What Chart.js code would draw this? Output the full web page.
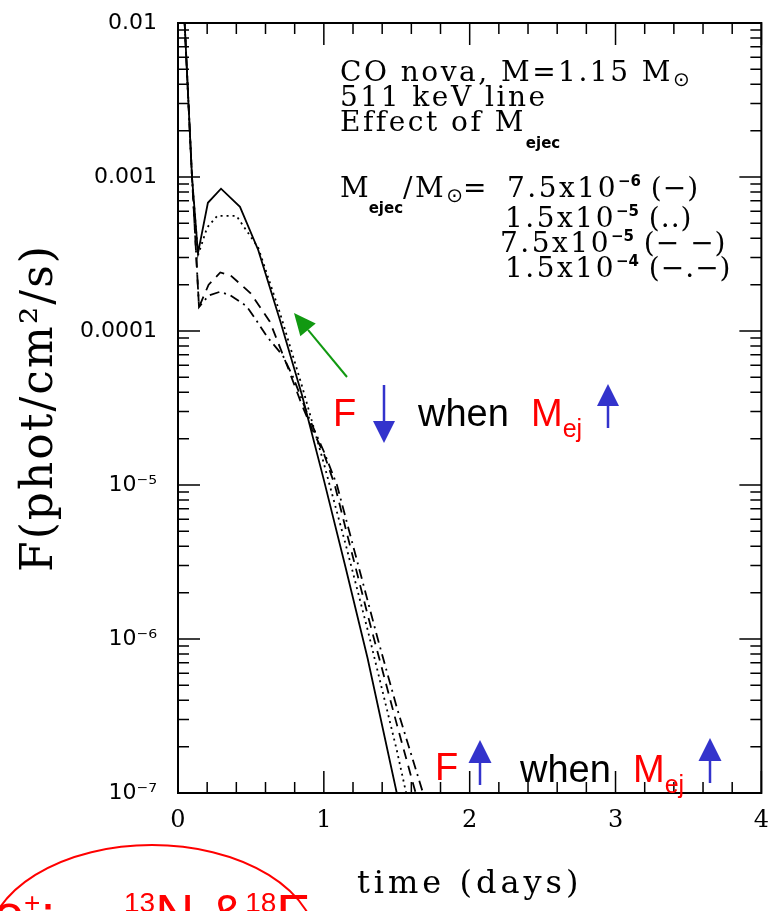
<!DOCTYPE html>
<html>
<head>
<meta charset="utf-8">
<script src="https://cdn.jsdelivr.net/npm/chart.js@4.4.1/dist/chart.umd.min.js"></script>
<style>
  html, body { margin: 0; padding: 0; background: #fff; }
</style>
</head>
<body>
<canvas id="lc" width="769" height="911"></canvas>
<script>
// 511 keV line light curves, CO nova 1.15 Msun, one pair of arrays per ejected mass
// time in days, flux in phot/cm2/s
const tSolid = [0, 0.096, 0.137, 0.205, 0.295, 0.425, 0.55, 0.70, 0.85, 1.0, 1.15, 1.3, 1.5, 1.6];
const fSolid = [0.08, 1.0e-3, 3.2e-4, 6.8e-4, 8.4e-4, 6.4e-4, 3.36e-4, 1.17e-4, 3.84e-5, 1.08e-5, 2.89e-6, 7.5e-7, 1.0e-7, 3.7e-8];

const tDotted = [0, 0.096, 0.137, 0.2, 0.27, 0.4, 0.55, 0.70, 0.85, 1.0, 1.15, 1.3, 1.5, 1.6];
const fDotted = [0.08, 1.0e-3, 3.1e-4, 4.7e-4, 5.6e-4, 5.6e-4, 3.48e-4, 1.30e-4, 4.4e-5, 1.38e-5, 4.1e-6, 1.15e-6, 1.9e-7, 7.0e-8];

const tDashed = [0, 0.096, 0.144, 0.21, 0.29, 0.36, 0.5, 0.63, 0.75, 0.85, 0.92, 1.0, 1.075, 1.15, 1.3, 1.5, 1.65];
const fDashed = [0.08, 1.0e-3, 1.43e-4, 2.0e-4, 2.4e-4, 2.3e-4, 1.75e-4, 1.15e-4, 5.9e-5, 3.3e-5, 2.3e-5, 1.6e-5, 1.0e-5, 5.2e-6, 1.44e-6, 2.8e-7, 8.5e-8];

const tDashDot = [0, 0.096, 0.144, 0.21, 0.29, 0.36, 0.47, 0.53, 0.61, 0.72, 0.79, 0.9, 1.0, 1.09, 1.37, 1.5, 1.68, 1.75];
const fDashDot = [0.08, 1.0e-3, 1.43e-4, 1.7e-4, 1.8e-4, 1.7e-4, 1.45e-4, 1.2e-4, 9.2e-5, 6.9e-5, 5.0e-5, 2.7e-5, 1.65e-5, 1.0e-5, 1.0e-6, 3.6e-7, 1.0e-7, 5.8e-8];

const seriesNames = ['7.5x10⁻⁶', '1.5x10⁻⁵', '7.5x10⁻⁵', '1.5x10⁻⁴'];

const xTicks = [0, 1, 2, 3, 4];
const yTicks = [1e-7, 1e-6, 1e-5, 1e-4, 1e-3, 1e-2];
const yTickLabels = ['10⁻⁷', '10⁻⁶', '10⁻⁵', '0.0001', '0.001', '0.01'];

// letter spacing for the axis titles (the original font is very wide)
const titleSpacing = { x: '4px', y: '2px' };

function pts(ts, fs) {
  return ts.map((t, i) => ({ x: t, y: fs[i] }));
}

function lineSet(label, ts, fs, dash) {
  return {
    label: label,
    data: pts(ts, fs),
    borderColor: '#000',
    borderWidth: 1.8,
    borderDash: dash,
    pointRadius: 0,
    tension: 0,
    fill: false
  };
}

// draws pieces of text one after another on the same line
function drawRich(ctx, x, y, parts) {
  parts.forEach(p => {
    ctx.font = p.font;
    ctx.fillStyle = p.color || '#000';
    ctx.letterSpacing = p.ls || '0px';
    ctx.fillText(p.text, x, y + (p.dy || 0));
    x += ctx.measureText(p.text).width;
  });
  ctx.letterSpacing = '0px';
  return x;
}

function arrow(ctx, x1, y1, x2, y2, color, lw, headLen, headW) {
  const ang = Math.atan2(y2 - y1, x2 - x1);
  const bx = x2 - headLen * Math.cos(ang);
  const by = y2 - headLen * Math.sin(ang);
  ctx.strokeStyle = color;
  ctx.fillStyle = color;
  ctx.lineWidth = lw;
  ctx.beginPath();
  ctx.moveTo(x1, y1);
  ctx.lineTo(bx, by);
  ctx.stroke();
  ctx.beginPath();
  ctx.moveTo(x2, y2);
  ctx.lineTo(bx + headW / 2 * Math.sin(ang), by - headW / 2 * Math.cos(ang));
  ctx.lineTo(bx - headW / 2 * Math.sin(ang), by + headW / 2 * Math.cos(ang));
  ctx.closePath();
  ctx.fill();
}

const spacing = {
  id: 'spacing',
  beforeDraw(chart) {
    Object.keys(titleSpacing).forEach(id => {
      const s = chart.scales[id];
      if (s._spaced) return;
      const draw = s.drawTitle;
      s.drawTitle = function () {
        this.ctx.save();
        this.ctx.letterSpacing = titleSpacing[id];
        draw.call(this);
        this.ctx.restore();
      };
      s._spaced = true;
    });
  }
};

// box around the plot with inward ticks, like the original plot package
const frame = {
  id: 'frame',
  afterDatasetsDraw(chart) {
    const { ctx, chartArea: a, scales: { x, y } } = chart;
    ctx.save();
    ctx.strokeStyle = '#000';
    ctx.lineWidth = 2;
    ctx.strokeRect(a.left, a.top, a.right - a.left, a.bottom - a.top);
    ctx.lineWidth = 1.5;
    ctx.beginPath();
    for (let i = 0; i <= 20; i++) {
      const px = x.getPixelForValue(i * 0.2);
      const len = i % 5 === 0 ? 22 : 11;
      ctx.moveTo(px, a.bottom); ctx.lineTo(px, a.bottom - len);
      ctx.moveTo(px, a.top); ctx.lineTo(px, a.top + len);
    }
    for (let e = -7; e <= -3; e++) {
      for (let m = 1; m <= 9; m++) {
        const py = y.getPixelForValue(m * Math.pow(10, e));
        const len = m === 1 ? 22 : 11;
        ctx.moveTo(a.left, py); ctx.lineTo(a.left + len, py);
        ctx.moveTo(a.right, py); ctx.lineTo(a.right - len, py);
      }
    }
    ctx.stroke();
    ctx.restore();
  }
};

const notes = {
  id: 'notes',
  afterDraw(chart) {
    const ctx = chart.ctx;
    ctx.save();
    ctx.textBaseline = 'alphabetic';
    ctx.textAlign = 'left';

    // legend block
    const serif = '28px "DejaVu Serif"';
    const sub = 'bold 15px "DejaVu Sans"';
    const sup = 'bold 15px "DejaVu Sans"';
    const sun = '20px "DejaVu Sans"';
    const ls = '2.5px';
    drawRich(ctx, 340, 81, [{ text: 'CO nova, M=1.15 M', font: serif, ls: ls }, { text: '⊙', font: sun, dy: 5 }]);
    drawRich(ctx, 340, 106, [{ text: '511 keV line', font: serif, ls: ls }]);
    drawRich(ctx, 340, 131, [{ text: 'Effect of M', font: serif, ls: ls }, { text: 'ejec', font: sub, dy: 17 }]);
    drawRich(ctx, 340, 197, [
      { text: 'M', font: serif }, { text: 'ejec', font: sub, dy: 16 },
      { text: '/M', font: serif, ls: ls }, { text: '⊙', font: sun, dy: 5 }, { text: '=', font: serif }
    ]);
    const marks = ['(−)', '(..)', '(− −)', '(−.−)'];
    const rows = [[507, 197, '7.5x10', '−6'], [505, 227, '1.5x10', '−5'], [500, 252, '7.5x10', '−5'], [505, 277, '1.5x10', '−4']];
    rows.forEach((r, i) => {
      drawRich(ctx, r[0], r[1], [
        { text: r[2], font: serif, ls: ls }, { text: r[3], font: sup, dy: -11 }, { text: ' ' + marks[i], font: serif, ls: '1px' }
      ]);
    });

    // slide annotations
    const big = '38px "Liberation Sans"';
    const small = '25px "Liberation Sans"';
    const blue = '#3333cc';
    const red = '#ff0000';
    arrow(ctx, 347, 377, 294, 313, '#119911', 2, 22, 20);

    drawRich(ctx, 333, 426, [{ text: 'F', font: big, color: red }]);
    arrow(ctx, 384, 385, 384, 443, blue, 2.5, 22, 22);
    drawRich(ctx, 418, 426, [{ text: 'when', font: big }]);
    drawRich(ctx, 531, 426, [{ text: 'M', font: big, color: red }, { text: 'ej', font: small, color: red, dy: 11 }]);
    arrow(ctx, 608, 428, 608, 384, blue, 2.5, 22, 22);

    drawRich(ctx, 435, 780, [{ text: 'F', font: big, color: red }]);
    arrow(ctx, 480, 785, 480, 740, blue, 2.5, 23, 23);
    drawRich(ctx, 520, 782, [{ text: 'when', font: big }]);
    drawRich(ctx, 633, 782, [{ text: 'M', font: big, color: red }, { text: 'ej', font: small, color: red, dy: 11 }]);
    arrow(ctx, 710, 783, 710, 738, blue, 2.5, 23, 23);

    // circled note cut by the bottom edge
    ctx.strokeStyle = red;
    ctx.lineWidth = 2;
    ctx.beginPath();
    ctx.ellipse(152, 947, 165, 102, 0, 0, Math.PI * 2);
    ctx.stroke();
    const nf = '54px "Liberation Sans"';
    const ns = '28px "Liberation Sans"';
    drawRich(ctx, -6, 932, [
      { text: 'e', font: nf, color: red }, { text: '+', font: ns, color: red, dy: -20 },
      { text: ':', font: nf, color: red }
    ]);
    drawRich(ctx, 124, 932, [
      { text: '13', font: ns, color: red, dy: -20 },
      { text: 'N &', font: nf, color: red }, { text: '18', font: ns, color: red, dy: -20 },
      { text: 'F', font: nf, color: red }
    ]);
    ctx.restore();
  }
};

new Chart(document.getElementById('lc').getContext('2d'), {
  type: 'line',
  data: {
    datasets: [
      lineSet(seriesNames[0], tSolid, fSolid, []),
      lineSet(seriesNames[1], tDotted, fDotted, [2, 4]),
      lineSet(seriesNames[2], tDashed, fDashed, [10, 7]),
      lineSet(seriesNames[3], tDashDot, fDashDot, [10, 5, 2, 5])
    ]
  },
  options: {
    responsive: false,
    animation: false,
    layout: { padding: { left: 0, top: 23, right: 7, bottom: 0 } },
    plugins: { legend: { display: false }, tooltip: { enabled: false } },
    scales: {
      x: {
        type: 'linear',
        min: 0,
        max: 4,
        grid: { display: true, drawOnChartArea: false, drawTicks: true, tickLength: 13, color: 'rgba(0,0,0,0)' },
        border: { display: false },
        afterBuildTicks: s => { s.ticks = xTicks.map(v => ({ value: v })); },
        afterFit: s => { s.height = 118; },
        ticks: {
          padding: 0,
          color: '#000',
          maxRotation: 0,
          font: { family: 'DejaVu Serif', size: 24 },
          callback: v => String(v)
        },
        title: {
          display: true,
          text: 'time (days)',
          color: '#000',
          font: { family: 'DejaVu Serif', size: 32 },
          padding: { top: 0, bottom: 7 }
        }
      },
      y: {
        type: 'logarithmic',
        min: 1e-7,
        max: 1e-2,
        grid: { display: true, drawOnChartArea: false, drawTicks: true, tickLength: 19, color: 'rgba(0,0,0,0)' },
        border: { display: false },
        afterBuildTicks: s => { s.ticks = yTicks.map(v => ({ value: v })); },
        afterFit: s => { s.width = 178; },
        ticks: {
          padding: 2,
          color: '#000',
          font: { family: 'DejaVu Sans', size: 22 },
          callback: v => {
            const i = yTicks.findIndex(t => Math.abs(t - v) / t < 1e-6);
            return i >= 0 ? yTickLabels[i] : '';
          }
        },
        title: {
          display: true,
          text: 'F(phot/cm²/s)',
          color: '#000',
          font: { family: 'DejaVu Serif', size: 44 },
          padding: { top: 14, bottom: 0 }
        }
      }
    }
  },
  plugins: [spacing, frame, notes]
});
</script>
</body>
</html>
